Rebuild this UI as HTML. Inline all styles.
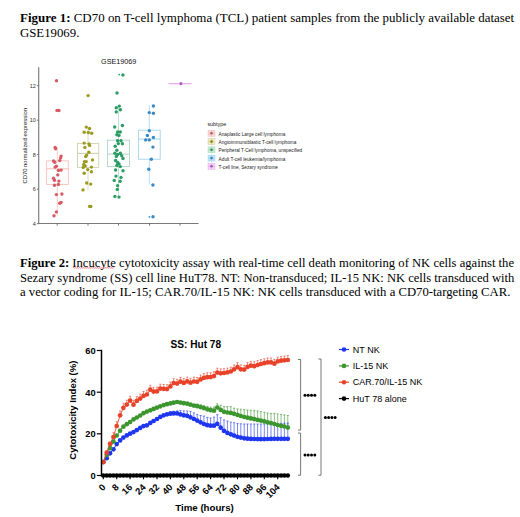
<!DOCTYPE html>
<html><head><meta charset="utf-8"><style>
html,body{margin:0;padding:0;background:#fff;}
body{width:520px;height:517px;overflow:hidden;position:relative;}
svg{position:absolute;left:0;top:0;}
svg text{font-family:"Liberation Sans",sans-serif;}
svg text.serif{font-family:"Liberation Serif",serif;}
</style></head><body>
<svg width="520" height="517" viewBox="0 0 520 517">
<rect width="520" height="517" fill="#fff"/>
<text class="serif" x="20" y="21.9" font-size="12.8" fill="#000" textLength="494.2" lengthAdjust="spacingAndGlyphs"><tspan font-weight="bold">Figure 1:</tspan> CD70 on T-cell lymphoma (TCL) patient samples from the publicly available dataset</text>
<text class="serif" x="20" y="36.7" font-size="12.8" fill="#000">GSE19069.</text>
<text class="serif" x="20" y="266.9" font-size="12.8" fill="#000" textLength="494" lengthAdjust="spacingAndGlyphs"><tspan font-weight="bold">Figure 2:</tspan> Incucyte cytotoxicity assay with real-time cell death monitoring of NK cells against the</text>
<text class="serif" x="20" y="281.7" font-size="12.8" fill="#000" textLength="494.3" lengthAdjust="spacingAndGlyphs">Sezary syndrome (SS) cell line HuT78. NT: Non-transduced; IL-15 NK: NK cells transduced with</text>
<text class="serif" x="20" y="296.3" font-size="12.8" fill="#000" textLength="490.4" lengthAdjust="spacingAndGlyphs">a vector coding for IL-15; CAR.70/IL-15 NK: NK cells transduced with a CD70-targeting CAR.</text>
<g id="fig1">
<line x1="38.7" y1="67.2" x2="38.7" y2="224.0" stroke="#7a7a7a" stroke-width="1.15"/>
<line x1="38.1" y1="223.5" x2="198.6" y2="223.5" stroke="#7a7a7a" stroke-width="1.15"/>
<line x1="36.8" y1="85.7" x2="38.6" y2="85.7" stroke="#555" stroke-width="0.8"/>
<text x="35.9" y="87.6" font-size="5.5" fill="#333" text-anchor="end">12</text>
<line x1="36.8" y1="120.2" x2="38.6" y2="120.2" stroke="#555" stroke-width="0.8"/>
<text x="35.9" y="122.1" font-size="5.5" fill="#333" text-anchor="end">10</text>
<line x1="36.8" y1="154.7" x2="38.6" y2="154.7" stroke="#555" stroke-width="0.8"/>
<text x="35.9" y="156.6" font-size="5.5" fill="#333" text-anchor="end">8</text>
<line x1="36.8" y1="189.2" x2="38.6" y2="189.2" stroke="#555" stroke-width="0.8"/>
<text x="35.9" y="191.1" font-size="5.5" fill="#333" text-anchor="end">6</text>
<line x1="36.8" y1="223.7" x2="38.6" y2="223.7" stroke="#555" stroke-width="0.8"/>
<text x="35.9" y="225.6" font-size="5.5" fill="#333" text-anchor="end">4</text>
<line x1="57.2" y1="223.6" x2="57.2" y2="225.6" stroke="#555" stroke-width="0.8"/>
<line x1="88.0" y1="223.6" x2="88.0" y2="225.6" stroke="#555" stroke-width="0.8"/>
<line x1="118.5" y1="223.6" x2="118.5" y2="225.6" stroke="#555" stroke-width="0.8"/>
<line x1="149.5" y1="223.6" x2="149.5" y2="225.6" stroke="#555" stroke-width="0.8"/>
<line x1="180.1" y1="223.6" x2="180.1" y2="225.6" stroke="#555" stroke-width="0.8"/>
<text x="101.1" y="63.9" font-size="7.9" fill="#111" textLength="35.2" lengthAdjust="spacingAndGlyphs">GSE19069</text>
<text transform="translate(26.6,145.8) rotate(-90)" font-size="5.5" fill="#222" text-anchor="middle" textLength="75.6" lengthAdjust="spacingAndGlyphs">CD70 normalized expression</text>
<line x1="57.3" y1="147.4" x2="57.3" y2="160.9" stroke="#F5C0BC" stroke-width="0.8"/>
<line x1="57.3" y1="184.4" x2="57.3" y2="215.7" stroke="#F5C0BC" stroke-width="0.8"/>
<rect x="46.6" y="160.9" width="21.7" height="23.5" fill="none" stroke="#F5C0BC" stroke-width="0.9"/>
<line x1="46.6" y1="168.8" x2="68.3" y2="168.8" stroke="#F5C0BC" stroke-width="1.1"/>
<line x1="88.0" y1="127.1" x2="88.0" y2="143.4" stroke="#D0D0B0" stroke-width="0.8"/>
<line x1="88.0" y1="167.4" x2="88.0" y2="189.9" stroke="#D0D0B0" stroke-width="0.8"/>
<rect x="77.5" y="143.4" width="21.2" height="24.0" fill="none" stroke="#D0D0B0" stroke-width="0.9"/>
<line x1="77.5" y1="153.4" x2="98.7" y2="153.4" stroke="#D0D0B0" stroke-width="1.1"/>
<line x1="118.5" y1="107.7" x2="118.5" y2="140.2" stroke="#B0D8C4" stroke-width="0.8"/>
<line x1="118.5" y1="166.6" x2="118.5" y2="197.1" stroke="#B0D8C4" stroke-width="0.8"/>
<rect x="107.5" y="140.2" width="22.0" height="26.4" fill="none" stroke="#B0D8C4" stroke-width="0.9"/>
<line x1="107.5" y1="154.1" x2="129.5" y2="154.1" stroke="#B0D8C4" stroke-width="1.1"/>
<line x1="149.3" y1="105.3" x2="149.3" y2="130.2" stroke="#A4D4F0" stroke-width="0.8"/>
<line x1="149.3" y1="159.2" x2="149.3" y2="184.5" stroke="#A4D4F0" stroke-width="0.8"/>
<rect x="138.5" y="130.2" width="21.7" height="29.0" fill="none" stroke="#A4D4F0" stroke-width="0.9"/>
<line x1="138.5" y1="139.1" x2="160.2" y2="139.1" stroke="#A4D4F0" stroke-width="1.1"/>
<line x1="168.5" y1="83.7" x2="191.5" y2="83.7" stroke="#E8A8F0" stroke-width="1.2"/>
<circle cx="180.9" cy="83.7" r="1.6" fill="#B060C0"/>
<circle cx="56.5" cy="80.8" r="1.7" fill="#D65A64"/>
<circle cx="58.9" cy="110.5" r="1.7" fill="#D65A64"/>
<circle cx="57.0" cy="110.4" r="1.7" fill="#D65A64"/>
<circle cx="55.1" cy="147.4" r="1.7" fill="#D65A64"/>
<circle cx="55.6" cy="148.8" r="1.7" fill="#D65A64"/>
<circle cx="61.1" cy="156.1" r="1.7" fill="#D65A64"/>
<circle cx="60.6" cy="158.1" r="1.7" fill="#D65A64"/>
<circle cx="59.7" cy="160.6" r="1.7" fill="#D65A64"/>
<circle cx="53.5" cy="161" r="1.7" fill="#D65A64"/>
<circle cx="54.8" cy="162.2" r="1.7" fill="#D65A64"/>
<circle cx="56.4" cy="166.3" r="1.7" fill="#D65A64"/>
<circle cx="55.1" cy="167.1" r="1.7" fill="#D65A64"/>
<circle cx="58.4" cy="170.4" r="1.7" fill="#D65A64"/>
<circle cx="61.1" cy="170.1" r="1.7" fill="#D65A64"/>
<circle cx="57.8" cy="174.9" r="1.7" fill="#D65A64"/>
<circle cx="53.5" cy="178.2" r="1.7" fill="#D65A64"/>
<circle cx="54.5" cy="180.3" r="1.7" fill="#D65A64"/>
<circle cx="58.9" cy="181.1" r="1.7" fill="#D65A64"/>
<circle cx="54.5" cy="185.2" r="1.7" fill="#D65A64"/>
<circle cx="58.4" cy="184.4" r="1.7" fill="#D65A64"/>
<circle cx="56.4" cy="194.6" r="1.7" fill="#D65A64"/>
<circle cx="61.9" cy="194" r="1.7" fill="#D65A64"/>
<circle cx="59.7" cy="203.3" r="1.7" fill="#D65A64"/>
<circle cx="61.1" cy="202.5" r="1.7" fill="#D65A64"/>
<circle cx="56.4" cy="211.9" r="1.7" fill="#D65A64"/>
<circle cx="54" cy="215.7" r="1.7" fill="#D65A64"/>
<circle cx="88.1" cy="95.6" r="1.7" fill="#9A9A1E"/>
<circle cx="86.3" cy="127.1" r="1.7" fill="#9A9A1E"/>
<circle cx="89.6" cy="128.5" r="1.7" fill="#9A9A1E"/>
<circle cx="84.2" cy="132.2" r="1.7" fill="#9A9A1E"/>
<circle cx="88.3" cy="132.5" r="1.7" fill="#9A9A1E"/>
<circle cx="91.7" cy="133.2" r="1.7" fill="#9A9A1E"/>
<circle cx="84.2" cy="143.1" r="1.7" fill="#9A9A1E"/>
<circle cx="89" cy="144" r="1.7" fill="#9A9A1E"/>
<circle cx="84.9" cy="147.4" r="1.7" fill="#9A9A1E"/>
<circle cx="89.6" cy="145.4" r="1.7" fill="#9A9A1E"/>
<circle cx="88.8" cy="152.2" r="1.7" fill="#9A9A1E"/>
<circle cx="86.7" cy="155.1" r="1.7" fill="#9A9A1E"/>
<circle cx="85.7" cy="156.5" r="1.7" fill="#9A9A1E"/>
<circle cx="92.5" cy="159.9" r="1.7" fill="#9A9A1E"/>
<circle cx="84.5" cy="161.6" r="1.7" fill="#9A9A1E"/>
<circle cx="86.2" cy="161.6" r="1.7" fill="#9A9A1E"/>
<circle cx="83.8" cy="164.5" r="1.7" fill="#9A9A1E"/>
<circle cx="85.2" cy="165.9" r="1.7" fill="#9A9A1E"/>
<circle cx="83.3" cy="167.4" r="1.7" fill="#9A9A1E"/>
<circle cx="91.4" cy="167.1" r="1.7" fill="#9A9A1E"/>
<circle cx="87.7" cy="169.6" r="1.7" fill="#9A9A1E"/>
<circle cx="91.4" cy="171.7" r="1.7" fill="#9A9A1E"/>
<circle cx="84.2" cy="173.2" r="1.7" fill="#9A9A1E"/>
<circle cx="86.7" cy="183" r="1.7" fill="#9A9A1E"/>
<circle cx="90.7" cy="184.1" r="1.7" fill="#9A9A1E"/>
<circle cx="83" cy="189.9" r="1.7" fill="#9A9A1E"/>
<circle cx="89.6" cy="206.4" r="1.7" fill="#9A9A1E"/>
<circle cx="90.8" cy="206.5" r="1.7" fill="#9A9A1E"/>
<circle cx="122.9" cy="75" r="1.7" fill="#2A9C64"/>
<circle cx="117" cy="93" r="1.7" fill="#2A9C64"/>
<circle cx="116.3" cy="107.7" r="1.7" fill="#2A9C64"/>
<circle cx="119.3" cy="106.1" r="1.7" fill="#2A9C64"/>
<circle cx="120.4" cy="109.8" r="1.7" fill="#2A9C64"/>
<circle cx="116.3" cy="111.9" r="1.7" fill="#2A9C64"/>
<circle cx="114.7" cy="127" r="1.7" fill="#2A9C64"/>
<circle cx="122.4" cy="125.5" r="1.7" fill="#2A9C64"/>
<circle cx="117.6" cy="132" r="1.7" fill="#2A9C64"/>
<circle cx="120.3" cy="132" r="1.7" fill="#2A9C64"/>
<circle cx="116.9" cy="134.7" r="1.7" fill="#2A9C64"/>
<circle cx="119" cy="135.4" r="1.7" fill="#2A9C64"/>
<circle cx="117.6" cy="140.8" r="1.7" fill="#2A9C64"/>
<circle cx="121" cy="140.8" r="1.7" fill="#2A9C64"/>
<circle cx="118.3" cy="143.6" r="1.7" fill="#2A9C64"/>
<circle cx="122.4" cy="143.8" r="1.7" fill="#2A9C64"/>
<circle cx="115.2" cy="146.3" r="1.7" fill="#2A9C64"/>
<circle cx="116.9" cy="150.3" r="1.7" fill="#2A9C64"/>
<circle cx="114.9" cy="153.3" r="1.7" fill="#2A9C64"/>
<circle cx="117.6" cy="154.4" r="1.7" fill="#2A9C64"/>
<circle cx="120.3" cy="153.3" r="1.7" fill="#2A9C64"/>
<circle cx="121.7" cy="155.7" r="1.7" fill="#2A9C64"/>
<circle cx="116.3" cy="156.4" r="1.7" fill="#2A9C64"/>
<circle cx="123" cy="158.5" r="1.7" fill="#2A9C64"/>
<circle cx="115.6" cy="160.5" r="1.7" fill="#2A9C64"/>
<circle cx="117.6" cy="162.5" r="1.7" fill="#2A9C64"/>
<circle cx="119" cy="163.9" r="1.7" fill="#2A9C64"/>
<circle cx="116.9" cy="165.5" r="1.7" fill="#2A9C64"/>
<circle cx="120.3" cy="166.6" r="1.7" fill="#2A9C64"/>
<circle cx="115.6" cy="170" r="1.7" fill="#2A9C64"/>
<circle cx="123" cy="170.7" r="1.7" fill="#2A9C64"/>
<circle cx="116" cy="176.1" r="1.7" fill="#2A9C64"/>
<circle cx="121" cy="177.4" r="1.7" fill="#2A9C64"/>
<circle cx="114.2" cy="180.4" r="1.7" fill="#2A9C64"/>
<circle cx="120.1" cy="181.2" r="1.7" fill="#2A9C64"/>
<circle cx="117.6" cy="185.6" r="1.7" fill="#2A9C64"/>
<circle cx="117.3" cy="189.4" r="1.7" fill="#2A9C64"/>
<circle cx="114.9" cy="196.4" r="1.7" fill="#2A9C64"/>
<circle cx="119" cy="197.1" r="1.7" fill="#2A9C64"/>
<circle cx="153.4" cy="106" r="1.7" fill="#3A88C6"/>
<circle cx="149.3" cy="112.6" r="1.7" fill="#3A88C6"/>
<circle cx="153.4" cy="113.3" r="1.7" fill="#3A88C6"/>
<circle cx="149.3" cy="130.7" r="1.7" fill="#3A88C6"/>
<circle cx="147.4" cy="135.5" r="1.7" fill="#3A88C6"/>
<circle cx="145.7" cy="139.9" r="1.7" fill="#3A88C6"/>
<circle cx="149.3" cy="139.9" r="1.7" fill="#3A88C6"/>
<circle cx="153.4" cy="137.4" r="1.7" fill="#3A88C6"/>
<circle cx="152.9" cy="147.1" r="1.7" fill="#3A88C6"/>
<circle cx="151.3" cy="159.2" r="1.7" fill="#3A88C6"/>
<circle cx="148.8" cy="169.3" r="1.7" fill="#3A88C6"/>
<circle cx="152.9" cy="185" r="1.7" fill="#3A88C6"/>
<circle cx="153" cy="216.7" r="1.7" fill="#3A88C6"/>
<circle cx="149.4" cy="216.8" r="0.9" fill="#3A88C6"/>
<circle cx="119.2" cy="74.6" r="0.9" fill="#2A9C64"/>
<text x="207.4" y="126.4" font-size="5.6" fill="#222" textLength="18.9" lengthAdjust="spacingAndGlyphs">subtype</text>
<rect x="208.0" y="130.3" width="7.0" height="6.0" fill="#F9D6D4" stroke="#F5C0BC" stroke-width="0.5"/>
<line x1="211.5" y1="129.7" x2="211.5" y2="136.9" stroke="#F5C0BC" stroke-width="0.6"/>
<line x1="208.0" y1="133.3" x2="215.0" y2="133.3" stroke="#F5C0BC" stroke-width="0.6"/>
<circle cx="211.5" cy="133.3" r="1.3" fill="#B0606A"/>
<text x="218.6" y="135.7" font-size="5.2" fill="#222" textLength="66.7" lengthAdjust="spacingAndGlyphs">Anaplastic Large cell lymphoma</text>
<rect x="208.0" y="138.6" width="7.0" height="6.0" fill="#EEEBB4" stroke="#D0D0B0" stroke-width="0.5"/>
<line x1="211.5" y1="138.0" x2="211.5" y2="145.2" stroke="#D0D0B0" stroke-width="0.6"/>
<line x1="208.0" y1="141.6" x2="215.0" y2="141.6" stroke="#D0D0B0" stroke-width="0.6"/>
<circle cx="211.5" cy="141.6" r="1.3" fill="#888020"/>
<text x="218.6" y="144.0" font-size="5.2" fill="#222" textLength="77.8" lengthAdjust="spacingAndGlyphs">Angioimmunoblastic T-cell lymphoma</text>
<rect x="208.0" y="146.8" width="7.0" height="6.0" fill="#C6EBD4" stroke="#B0D8C4" stroke-width="0.5"/>
<line x1="211.5" y1="146.2" x2="211.5" y2="153.4" stroke="#B0D8C4" stroke-width="0.6"/>
<line x1="208.0" y1="149.8" x2="215.0" y2="149.8" stroke="#B0D8C4" stroke-width="0.6"/>
<circle cx="211.5" cy="149.8" r="1.3" fill="#3A8A58"/>
<text x="218.6" y="152.2" font-size="5.2" fill="#222" textLength="83.6" lengthAdjust="spacingAndGlyphs">Peripheral T-Cell lymphoma, unspecified</text>
<rect x="208.0" y="155.1" width="7.0" height="6.0" fill="#BEE2F6" stroke="#A4D4F0" stroke-width="0.5"/>
<line x1="211.5" y1="154.5" x2="211.5" y2="161.7" stroke="#A4D4F0" stroke-width="0.6"/>
<line x1="208.0" y1="158.1" x2="215.0" y2="158.1" stroke="#A4D4F0" stroke-width="0.6"/>
<circle cx="211.5" cy="158.1" r="1.3" fill="#3585B8"/>
<text x="218.6" y="160.5" font-size="5.2" fill="#222" textLength="66.7" lengthAdjust="spacingAndGlyphs">Adult T-cell leukemia/lymphoma</text>
<rect x="208.0" y="163.3" width="7.0" height="6.0" fill="#F2D0F4" stroke="#E8A8F0" stroke-width="0.5"/>
<line x1="211.5" y1="162.7" x2="211.5" y2="169.9" stroke="#E8A8F0" stroke-width="0.6"/>
<line x1="208.0" y1="166.3" x2="215.0" y2="166.3" stroke="#E8A8F0" stroke-width="0.6"/>
<circle cx="211.5" cy="166.3" r="1.3" fill="#A058B0"/>
<text x="218.6" y="168.7" font-size="5.2" fill="#222" textLength="59.4" lengthAdjust="spacingAndGlyphs">T-cell line, Sezary syndrome</text>
</g>
<g id="fig2">
<line x1="103.3" y1="462.2" x2="103.3" y2="460.5" stroke="#E8432A" stroke-width="0.6"/>
<line x1="102.2" y1="460.5" x2="104.4" y2="460.5" stroke="#E8432A" stroke-width="0.6"/>
<line x1="106.7" y1="452.7" x2="106.7" y2="451.0" stroke="#E8432A" stroke-width="0.6"/>
<line x1="105.6" y1="451.0" x2="107.8" y2="451.0" stroke="#E8432A" stroke-width="0.6"/>
<line x1="110.0" y1="443.9" x2="110.0" y2="442.3" stroke="#E8432A" stroke-width="0.6"/>
<line x1="108.9" y1="442.3" x2="111.1" y2="442.3" stroke="#E8432A" stroke-width="0.6"/>
<line x1="113.4" y1="437.0" x2="113.4" y2="432.7" stroke="#E8432A" stroke-width="0.6"/>
<line x1="112.3" y1="432.7" x2="114.5" y2="432.7" stroke="#E8432A" stroke-width="0.6"/>
<line x1="116.7" y1="426.0" x2="116.7" y2="421.7" stroke="#E8432A" stroke-width="0.6"/>
<line x1="115.6" y1="421.7" x2="117.8" y2="421.7" stroke="#E8432A" stroke-width="0.6"/>
<line x1="120.1" y1="415.3" x2="120.1" y2="410.9" stroke="#E8432A" stroke-width="0.6"/>
<line x1="119.0" y1="410.9" x2="121.2" y2="410.9" stroke="#E8432A" stroke-width="0.6"/>
<line x1="123.4" y1="407.8" x2="123.4" y2="403.4" stroke="#E8432A" stroke-width="0.6"/>
<line x1="122.3" y1="403.4" x2="124.5" y2="403.4" stroke="#E8432A" stroke-width="0.6"/>
<line x1="126.8" y1="404.6" x2="126.8" y2="400.2" stroke="#E8432A" stroke-width="0.6"/>
<line x1="125.7" y1="400.2" x2="127.9" y2="400.2" stroke="#E8432A" stroke-width="0.6"/>
<line x1="130.1" y1="400.6" x2="130.1" y2="396.2" stroke="#E8432A" stroke-width="0.6"/>
<line x1="129.0" y1="396.2" x2="131.2" y2="396.2" stroke="#E8432A" stroke-width="0.6"/>
<line x1="133.5" y1="404.7" x2="133.5" y2="400.3" stroke="#E8432A" stroke-width="0.6"/>
<line x1="132.4" y1="400.3" x2="134.6" y2="400.3" stroke="#E8432A" stroke-width="0.6"/>
<line x1="136.8" y1="400.9" x2="136.8" y2="396.6" stroke="#E8432A" stroke-width="0.6"/>
<line x1="135.7" y1="396.6" x2="137.9" y2="396.6" stroke="#E8432A" stroke-width="0.6"/>
<line x1="140.2" y1="398.6" x2="140.2" y2="394.2" stroke="#E8432A" stroke-width="0.6"/>
<line x1="139.1" y1="394.2" x2="141.3" y2="394.2" stroke="#E8432A" stroke-width="0.6"/>
<line x1="143.5" y1="395.9" x2="143.5" y2="391.5" stroke="#E8432A" stroke-width="0.6"/>
<line x1="142.4" y1="391.5" x2="144.6" y2="391.5" stroke="#E8432A" stroke-width="0.6"/>
<line x1="146.9" y1="394.5" x2="146.9" y2="390.1" stroke="#E8432A" stroke-width="0.6"/>
<line x1="145.8" y1="390.1" x2="148.0" y2="390.1" stroke="#E8432A" stroke-width="0.6"/>
<line x1="150.3" y1="389.7" x2="150.3" y2="385.3" stroke="#E8432A" stroke-width="0.6"/>
<line x1="149.2" y1="385.3" x2="151.4" y2="385.3" stroke="#E8432A" stroke-width="0.6"/>
<line x1="153.6" y1="391.6" x2="153.6" y2="387.3" stroke="#E8432A" stroke-width="0.6"/>
<line x1="152.5" y1="387.3" x2="154.7" y2="387.3" stroke="#E8432A" stroke-width="0.6"/>
<line x1="157.0" y1="391.4" x2="157.0" y2="387.1" stroke="#E8432A" stroke-width="0.6"/>
<line x1="155.9" y1="387.1" x2="158.1" y2="387.1" stroke="#E8432A" stroke-width="0.6"/>
<line x1="160.3" y1="388.6" x2="160.3" y2="384.2" stroke="#E8432A" stroke-width="0.6"/>
<line x1="159.2" y1="384.2" x2="161.4" y2="384.2" stroke="#E8432A" stroke-width="0.6"/>
<line x1="163.7" y1="388.8" x2="163.7" y2="384.5" stroke="#E8432A" stroke-width="0.6"/>
<line x1="162.6" y1="384.5" x2="164.8" y2="384.5" stroke="#E8432A" stroke-width="0.6"/>
<line x1="167.0" y1="389.1" x2="167.0" y2="384.7" stroke="#E8432A" stroke-width="0.6"/>
<line x1="165.9" y1="384.7" x2="168.1" y2="384.7" stroke="#E8432A" stroke-width="0.6"/>
<line x1="170.4" y1="386.4" x2="170.4" y2="382.0" stroke="#E8432A" stroke-width="0.6"/>
<line x1="169.3" y1="382.0" x2="171.5" y2="382.0" stroke="#E8432A" stroke-width="0.6"/>
<line x1="173.7" y1="383.1" x2="173.7" y2="378.7" stroke="#E8432A" stroke-width="0.6"/>
<line x1="172.6" y1="378.7" x2="174.8" y2="378.7" stroke="#E8432A" stroke-width="0.6"/>
<line x1="177.1" y1="383.6" x2="177.1" y2="379.3" stroke="#E8432A" stroke-width="0.6"/>
<line x1="176.0" y1="379.3" x2="178.2" y2="379.3" stroke="#E8432A" stroke-width="0.6"/>
<line x1="180.4" y1="381.7" x2="180.4" y2="377.3" stroke="#E8432A" stroke-width="0.6"/>
<line x1="179.3" y1="377.3" x2="181.5" y2="377.3" stroke="#E8432A" stroke-width="0.6"/>
<line x1="183.8" y1="382.9" x2="183.8" y2="378.5" stroke="#E8432A" stroke-width="0.6"/>
<line x1="182.7" y1="378.5" x2="184.9" y2="378.5" stroke="#E8432A" stroke-width="0.6"/>
<line x1="187.2" y1="381.4" x2="187.2" y2="377.1" stroke="#E8432A" stroke-width="0.6"/>
<line x1="186.1" y1="377.1" x2="188.2" y2="377.1" stroke="#E8432A" stroke-width="0.6"/>
<line x1="190.5" y1="382.7" x2="190.5" y2="378.3" stroke="#E8432A" stroke-width="0.6"/>
<line x1="189.4" y1="378.3" x2="191.6" y2="378.3" stroke="#E8432A" stroke-width="0.6"/>
<line x1="193.9" y1="381.5" x2="193.9" y2="377.1" stroke="#E8432A" stroke-width="0.6"/>
<line x1="192.8" y1="377.1" x2="195.0" y2="377.1" stroke="#E8432A" stroke-width="0.6"/>
<line x1="197.2" y1="381.8" x2="197.2" y2="377.5" stroke="#E8432A" stroke-width="0.6"/>
<line x1="196.1" y1="377.5" x2="198.3" y2="377.5" stroke="#E8432A" stroke-width="0.6"/>
<line x1="200.6" y1="379.4" x2="200.6" y2="375.0" stroke="#E8432A" stroke-width="0.6"/>
<line x1="199.5" y1="375.0" x2="201.7" y2="375.0" stroke="#E8432A" stroke-width="0.6"/>
<line x1="203.9" y1="377.9" x2="203.9" y2="373.5" stroke="#E8432A" stroke-width="0.6"/>
<line x1="202.8" y1="373.5" x2="205.0" y2="373.5" stroke="#E8432A" stroke-width="0.6"/>
<line x1="207.3" y1="377.2" x2="207.3" y2="372.8" stroke="#E8432A" stroke-width="0.6"/>
<line x1="206.2" y1="372.8" x2="208.4" y2="372.8" stroke="#E8432A" stroke-width="0.6"/>
<line x1="210.6" y1="377.1" x2="210.6" y2="372.7" stroke="#E8432A" stroke-width="0.6"/>
<line x1="209.5" y1="372.7" x2="211.7" y2="372.7" stroke="#E8432A" stroke-width="0.6"/>
<line x1="214.0" y1="376.1" x2="214.0" y2="371.7" stroke="#E8432A" stroke-width="0.6"/>
<line x1="212.9" y1="371.7" x2="215.1" y2="371.7" stroke="#E8432A" stroke-width="0.6"/>
<line x1="217.3" y1="372.6" x2="217.3" y2="368.2" stroke="#E8432A" stroke-width="0.6"/>
<line x1="216.2" y1="368.2" x2="218.4" y2="368.2" stroke="#E8432A" stroke-width="0.6"/>
<line x1="220.7" y1="373.3" x2="220.7" y2="368.9" stroke="#E8432A" stroke-width="0.6"/>
<line x1="219.6" y1="368.9" x2="221.8" y2="368.9" stroke="#E8432A" stroke-width="0.6"/>
<line x1="224.0" y1="373.0" x2="224.0" y2="368.7" stroke="#E8432A" stroke-width="0.6"/>
<line x1="222.9" y1="368.7" x2="225.1" y2="368.7" stroke="#E8432A" stroke-width="0.6"/>
<line x1="227.4" y1="372.4" x2="227.4" y2="368.1" stroke="#E8432A" stroke-width="0.6"/>
<line x1="226.3" y1="368.1" x2="228.5" y2="368.1" stroke="#E8432A" stroke-width="0.6"/>
<line x1="230.8" y1="371.5" x2="230.8" y2="367.2" stroke="#E8432A" stroke-width="0.6"/>
<line x1="229.7" y1="367.2" x2="231.9" y2="367.2" stroke="#E8432A" stroke-width="0.6"/>
<line x1="234.1" y1="369.3" x2="234.1" y2="364.9" stroke="#E8432A" stroke-width="0.6"/>
<line x1="233.0" y1="364.9" x2="235.2" y2="364.9" stroke="#E8432A" stroke-width="0.6"/>
<line x1="237.5" y1="367.1" x2="237.5" y2="362.7" stroke="#E8432A" stroke-width="0.6"/>
<line x1="236.4" y1="362.7" x2="238.6" y2="362.7" stroke="#E8432A" stroke-width="0.6"/>
<line x1="240.8" y1="369.3" x2="240.8" y2="364.9" stroke="#E8432A" stroke-width="0.6"/>
<line x1="239.7" y1="364.9" x2="241.9" y2="364.9" stroke="#E8432A" stroke-width="0.6"/>
<line x1="244.2" y1="369.6" x2="244.2" y2="365.3" stroke="#E8432A" stroke-width="0.6"/>
<line x1="243.1" y1="365.3" x2="245.3" y2="365.3" stroke="#E8432A" stroke-width="0.6"/>
<line x1="247.5" y1="366.9" x2="247.5" y2="362.5" stroke="#E8432A" stroke-width="0.6"/>
<line x1="246.4" y1="362.5" x2="248.6" y2="362.5" stroke="#E8432A" stroke-width="0.6"/>
<line x1="250.9" y1="365.7" x2="250.9" y2="361.3" stroke="#E8432A" stroke-width="0.6"/>
<line x1="249.8" y1="361.3" x2="252.0" y2="361.3" stroke="#E8432A" stroke-width="0.6"/>
<line x1="254.2" y1="366.2" x2="254.2" y2="361.8" stroke="#E8432A" stroke-width="0.6"/>
<line x1="253.1" y1="361.8" x2="255.3" y2="361.8" stroke="#E8432A" stroke-width="0.6"/>
<line x1="257.6" y1="365.0" x2="257.6" y2="360.6" stroke="#E8432A" stroke-width="0.6"/>
<line x1="256.5" y1="360.6" x2="258.7" y2="360.6" stroke="#E8432A" stroke-width="0.6"/>
<line x1="260.9" y1="364.0" x2="260.9" y2="359.6" stroke="#E8432A" stroke-width="0.6"/>
<line x1="259.8" y1="359.6" x2="262.0" y2="359.6" stroke="#E8432A" stroke-width="0.6"/>
<line x1="264.3" y1="363.2" x2="264.3" y2="358.8" stroke="#E8432A" stroke-width="0.6"/>
<line x1="263.2" y1="358.8" x2="265.4" y2="358.8" stroke="#E8432A" stroke-width="0.6"/>
<line x1="267.6" y1="362.4" x2="267.6" y2="358.0" stroke="#E8432A" stroke-width="0.6"/>
<line x1="266.5" y1="358.0" x2="268.7" y2="358.0" stroke="#E8432A" stroke-width="0.6"/>
<line x1="271.0" y1="362.4" x2="271.0" y2="358.0" stroke="#E8432A" stroke-width="0.6"/>
<line x1="269.9" y1="358.0" x2="272.1" y2="358.0" stroke="#E8432A" stroke-width="0.6"/>
<line x1="274.4" y1="363.7" x2="274.4" y2="359.3" stroke="#E8432A" stroke-width="0.6"/>
<line x1="273.3" y1="359.3" x2="275.5" y2="359.3" stroke="#E8432A" stroke-width="0.6"/>
<line x1="277.7" y1="361.4" x2="277.7" y2="357.1" stroke="#E8432A" stroke-width="0.6"/>
<line x1="276.6" y1="357.1" x2="278.8" y2="357.1" stroke="#E8432A" stroke-width="0.6"/>
<line x1="281.1" y1="360.7" x2="281.1" y2="356.4" stroke="#E8432A" stroke-width="0.6"/>
<line x1="280.0" y1="356.4" x2="282.2" y2="356.4" stroke="#E8432A" stroke-width="0.6"/>
<line x1="284.4" y1="360.3" x2="284.4" y2="356.0" stroke="#E8432A" stroke-width="0.6"/>
<line x1="283.3" y1="356.0" x2="285.5" y2="356.0" stroke="#E8432A" stroke-width="0.6"/>
<line x1="287.8" y1="360.0" x2="287.8" y2="355.6" stroke="#E8432A" stroke-width="0.6"/>
<line x1="286.7" y1="355.6" x2="288.9" y2="355.6" stroke="#E8432A" stroke-width="0.6"/>
<line x1="197.2" y1="406.2" x2="197.2" y2="404.1" stroke="#3C962E" stroke-width="0.6"/>
<line x1="196.1" y1="404.1" x2="198.3" y2="404.1" stroke="#3C962E" stroke-width="0.6"/>
<line x1="200.6" y1="407.1" x2="200.6" y2="404.8" stroke="#3C962E" stroke-width="0.6"/>
<line x1="199.5" y1="404.8" x2="201.7" y2="404.8" stroke="#3C962E" stroke-width="0.6"/>
<line x1="203.9" y1="408.1" x2="203.9" y2="405.6" stroke="#3C962E" stroke-width="0.6"/>
<line x1="202.8" y1="405.6" x2="205.0" y2="405.6" stroke="#3C962E" stroke-width="0.6"/>
<line x1="207.3" y1="409.3" x2="207.3" y2="406.4" stroke="#3C962E" stroke-width="0.6"/>
<line x1="206.2" y1="406.4" x2="208.4" y2="406.4" stroke="#3C962E" stroke-width="0.6"/>
<line x1="210.6" y1="410.2" x2="210.6" y2="407.1" stroke="#3C962E" stroke-width="0.6"/>
<line x1="209.5" y1="407.1" x2="211.7" y2="407.1" stroke="#3C962E" stroke-width="0.6"/>
<line x1="214.0" y1="410.7" x2="214.0" y2="407.0" stroke="#3C962E" stroke-width="0.6"/>
<line x1="212.9" y1="407.0" x2="215.1" y2="407.0" stroke="#3C962E" stroke-width="0.6"/>
<line x1="217.3" y1="407.5" x2="217.3" y2="403.8" stroke="#3C962E" stroke-width="0.6"/>
<line x1="216.2" y1="403.8" x2="218.4" y2="403.8" stroke="#3C962E" stroke-width="0.6"/>
<line x1="220.7" y1="409.9" x2="220.7" y2="405.3" stroke="#3C962E" stroke-width="0.6"/>
<line x1="219.6" y1="405.3" x2="221.8" y2="405.3" stroke="#3C962E" stroke-width="0.6"/>
<line x1="224.0" y1="411.8" x2="224.0" y2="406.4" stroke="#3C962E" stroke-width="0.6"/>
<line x1="222.9" y1="406.4" x2="225.1" y2="406.4" stroke="#3C962E" stroke-width="0.6"/>
<line x1="227.4" y1="412.5" x2="227.4" y2="406.6" stroke="#3C962E" stroke-width="0.6"/>
<line x1="226.3" y1="406.6" x2="228.5" y2="406.6" stroke="#3C962E" stroke-width="0.6"/>
<line x1="230.8" y1="412.9" x2="230.8" y2="406.6" stroke="#3C962E" stroke-width="0.6"/>
<line x1="229.7" y1="406.6" x2="231.9" y2="406.6" stroke="#3C962E" stroke-width="0.6"/>
<line x1="234.1" y1="413.8" x2="234.1" y2="408.2" stroke="#3C962E" stroke-width="0.6"/>
<line x1="233.0" y1="408.2" x2="235.2" y2="408.2" stroke="#3C962E" stroke-width="0.6"/>
<line x1="237.5" y1="414.9" x2="237.5" y2="408.9" stroke="#3C962E" stroke-width="0.6"/>
<line x1="236.4" y1="408.9" x2="238.6" y2="408.9" stroke="#3C962E" stroke-width="0.6"/>
<line x1="240.8" y1="416.0" x2="240.8" y2="409.2" stroke="#3C962E" stroke-width="0.6"/>
<line x1="239.7" y1="409.2" x2="241.9" y2="409.2" stroke="#3C962E" stroke-width="0.6"/>
<line x1="244.2" y1="417.0" x2="244.2" y2="409.6" stroke="#3C962E" stroke-width="0.6"/>
<line x1="243.1" y1="409.6" x2="245.3" y2="409.6" stroke="#3C962E" stroke-width="0.6"/>
<line x1="247.5" y1="417.7" x2="247.5" y2="410.0" stroke="#3C962E" stroke-width="0.6"/>
<line x1="246.4" y1="410.0" x2="248.6" y2="410.0" stroke="#3C962E" stroke-width="0.6"/>
<line x1="250.9" y1="418.4" x2="250.9" y2="410.2" stroke="#3C962E" stroke-width="0.6"/>
<line x1="249.8" y1="410.2" x2="252.0" y2="410.2" stroke="#3C962E" stroke-width="0.6"/>
<line x1="254.2" y1="419.1" x2="254.2" y2="410.4" stroke="#3C962E" stroke-width="0.6"/>
<line x1="253.1" y1="410.4" x2="255.3" y2="410.4" stroke="#3C962E" stroke-width="0.6"/>
<line x1="257.6" y1="419.9" x2="257.6" y2="410.9" stroke="#3C962E" stroke-width="0.6"/>
<line x1="256.5" y1="410.9" x2="258.7" y2="410.9" stroke="#3C962E" stroke-width="0.6"/>
<line x1="260.9" y1="420.6" x2="260.9" y2="411.6" stroke="#3C962E" stroke-width="0.6"/>
<line x1="259.8" y1="411.6" x2="262.0" y2="411.6" stroke="#3C962E" stroke-width="0.6"/>
<line x1="264.3" y1="421.4" x2="264.3" y2="412.2" stroke="#3C962E" stroke-width="0.6"/>
<line x1="263.2" y1="412.2" x2="265.4" y2="412.2" stroke="#3C962E" stroke-width="0.6"/>
<line x1="267.6" y1="422.3" x2="267.6" y2="413.0" stroke="#3C962E" stroke-width="0.6"/>
<line x1="266.5" y1="413.0" x2="268.7" y2="413.0" stroke="#3C962E" stroke-width="0.6"/>
<line x1="271.0" y1="423.1" x2="271.0" y2="413.4" stroke="#3C962E" stroke-width="0.6"/>
<line x1="269.9" y1="413.4" x2="272.1" y2="413.4" stroke="#3C962E" stroke-width="0.6"/>
<line x1="274.4" y1="424.0" x2="274.4" y2="413.4" stroke="#3C962E" stroke-width="0.6"/>
<line x1="273.3" y1="413.4" x2="275.5" y2="413.4" stroke="#3C962E" stroke-width="0.6"/>
<line x1="277.7" y1="425.0" x2="277.7" y2="413.9" stroke="#3C962E" stroke-width="0.6"/>
<line x1="276.6" y1="413.9" x2="278.8" y2="413.9" stroke="#3C962E" stroke-width="0.6"/>
<line x1="281.1" y1="425.8" x2="281.1" y2="414.4" stroke="#3C962E" stroke-width="0.6"/>
<line x1="280.0" y1="414.4" x2="282.2" y2="414.4" stroke="#3C962E" stroke-width="0.6"/>
<line x1="284.4" y1="426.5" x2="284.4" y2="414.9" stroke="#3C962E" stroke-width="0.6"/>
<line x1="283.3" y1="414.9" x2="285.5" y2="414.9" stroke="#3C962E" stroke-width="0.6"/>
<line x1="287.8" y1="427.6" x2="287.8" y2="415.5" stroke="#3C962E" stroke-width="0.6"/>
<line x1="286.7" y1="415.5" x2="288.9" y2="415.5" stroke="#3C962E" stroke-width="0.6"/>
<line x1="170.4" y1="413.7" x2="170.4" y2="411.5" stroke="#1F36F0" stroke-width="0.6"/>
<line x1="169.3" y1="411.5" x2="171.5" y2="411.5" stroke="#1F36F0" stroke-width="0.6"/>
<line x1="173.7" y1="413.4" x2="173.7" y2="411.2" stroke="#1F36F0" stroke-width="0.6"/>
<line x1="172.6" y1="411.2" x2="174.8" y2="411.2" stroke="#1F36F0" stroke-width="0.6"/>
<line x1="177.1" y1="413.4" x2="177.1" y2="410.9" stroke="#1F36F0" stroke-width="0.6"/>
<line x1="176.0" y1="410.9" x2="178.2" y2="410.9" stroke="#1F36F0" stroke-width="0.6"/>
<line x1="180.4" y1="414.4" x2="180.4" y2="410.6" stroke="#1F36F0" stroke-width="0.6"/>
<line x1="179.3" y1="410.6" x2="181.5" y2="410.6" stroke="#1F36F0" stroke-width="0.6"/>
<line x1="183.8" y1="415.3" x2="183.8" y2="410.8" stroke="#1F36F0" stroke-width="0.6"/>
<line x1="182.7" y1="410.8" x2="184.9" y2="410.8" stroke="#1F36F0" stroke-width="0.6"/>
<line x1="187.2" y1="415.8" x2="187.2" y2="411.0" stroke="#1F36F0" stroke-width="0.6"/>
<line x1="186.1" y1="411.0" x2="188.2" y2="411.0" stroke="#1F36F0" stroke-width="0.6"/>
<line x1="190.5" y1="417.3" x2="190.5" y2="411.4" stroke="#1F36F0" stroke-width="0.6"/>
<line x1="189.4" y1="411.4" x2="191.6" y2="411.4" stroke="#1F36F0" stroke-width="0.6"/>
<line x1="193.9" y1="419.0" x2="193.9" y2="412.9" stroke="#1F36F0" stroke-width="0.6"/>
<line x1="192.8" y1="412.9" x2="195.0" y2="412.9" stroke="#1F36F0" stroke-width="0.6"/>
<line x1="197.2" y1="420.6" x2="197.2" y2="414.5" stroke="#1F36F0" stroke-width="0.6"/>
<line x1="196.1" y1="414.5" x2="198.3" y2="414.5" stroke="#1F36F0" stroke-width="0.6"/>
<line x1="200.6" y1="422.3" x2="200.6" y2="415.5" stroke="#1F36F0" stroke-width="0.6"/>
<line x1="199.5" y1="415.5" x2="201.7" y2="415.5" stroke="#1F36F0" stroke-width="0.6"/>
<line x1="203.9" y1="424.0" x2="203.9" y2="416.1" stroke="#1F36F0" stroke-width="0.6"/>
<line x1="202.8" y1="416.1" x2="205.0" y2="416.1" stroke="#1F36F0" stroke-width="0.6"/>
<line x1="207.3" y1="425.2" x2="207.3" y2="417.4" stroke="#1F36F0" stroke-width="0.6"/>
<line x1="206.2" y1="417.4" x2="208.4" y2="417.4" stroke="#1F36F0" stroke-width="0.6"/>
<line x1="210.6" y1="425.7" x2="210.6" y2="418.0" stroke="#1F36F0" stroke-width="0.6"/>
<line x1="209.5" y1="418.0" x2="211.7" y2="418.0" stroke="#1F36F0" stroke-width="0.6"/>
<line x1="214.0" y1="425.7" x2="214.0" y2="417.1" stroke="#1F36F0" stroke-width="0.6"/>
<line x1="212.9" y1="417.1" x2="215.1" y2="417.1" stroke="#1F36F0" stroke-width="0.6"/>
<line x1="217.3" y1="423.9" x2="217.3" y2="414.7" stroke="#1F36F0" stroke-width="0.6"/>
<line x1="216.2" y1="414.7" x2="218.4" y2="414.7" stroke="#1F36F0" stroke-width="0.6"/>
<line x1="220.7" y1="427.7" x2="220.7" y2="417.7" stroke="#1F36F0" stroke-width="0.6"/>
<line x1="219.6" y1="417.7" x2="221.8" y2="417.7" stroke="#1F36F0" stroke-width="0.6"/>
<line x1="224.0" y1="430.9" x2="224.0" y2="419.9" stroke="#1F36F0" stroke-width="0.6"/>
<line x1="222.9" y1="419.9" x2="225.1" y2="419.9" stroke="#1F36F0" stroke-width="0.6"/>
<line x1="227.4" y1="432.9" x2="227.4" y2="421.0" stroke="#1F36F0" stroke-width="0.6"/>
<line x1="226.3" y1="421.0" x2="228.5" y2="421.0" stroke="#1F36F0" stroke-width="0.6"/>
<line x1="230.8" y1="434.3" x2="230.8" y2="422.1" stroke="#1F36F0" stroke-width="0.6"/>
<line x1="229.7" y1="422.1" x2="231.9" y2="422.1" stroke="#1F36F0" stroke-width="0.6"/>
<line x1="234.1" y1="435.6" x2="234.1" y2="422.7" stroke="#1F36F0" stroke-width="0.6"/>
<line x1="233.0" y1="422.7" x2="235.2" y2="422.7" stroke="#1F36F0" stroke-width="0.6"/>
<line x1="237.5" y1="436.8" x2="237.5" y2="423.6" stroke="#1F36F0" stroke-width="0.6"/>
<line x1="236.4" y1="423.6" x2="238.6" y2="423.6" stroke="#1F36F0" stroke-width="0.6"/>
<line x1="240.8" y1="437.6" x2="240.8" y2="423.8" stroke="#1F36F0" stroke-width="0.6"/>
<line x1="239.7" y1="423.8" x2="241.9" y2="423.8" stroke="#1F36F0" stroke-width="0.6"/>
<line x1="244.2" y1="438.3" x2="244.2" y2="424.0" stroke="#1F36F0" stroke-width="0.6"/>
<line x1="243.1" y1="424.0" x2="245.3" y2="424.0" stroke="#1F36F0" stroke-width="0.6"/>
<line x1="247.5" y1="438.7" x2="247.5" y2="424.0" stroke="#1F36F0" stroke-width="0.6"/>
<line x1="246.4" y1="424.0" x2="248.6" y2="424.0" stroke="#1F36F0" stroke-width="0.6"/>
<line x1="250.9" y1="438.9" x2="250.9" y2="424.0" stroke="#1F36F0" stroke-width="0.6"/>
<line x1="249.8" y1="424.0" x2="252.0" y2="424.0" stroke="#1F36F0" stroke-width="0.6"/>
<line x1="254.2" y1="439.0" x2="254.2" y2="424.0" stroke="#1F36F0" stroke-width="0.6"/>
<line x1="253.1" y1="424.0" x2="255.3" y2="424.0" stroke="#1F36F0" stroke-width="0.6"/>
<line x1="257.6" y1="439.1" x2="257.6" y2="424.0" stroke="#1F36F0" stroke-width="0.6"/>
<line x1="256.5" y1="424.0" x2="258.7" y2="424.0" stroke="#1F36F0" stroke-width="0.6"/>
<line x1="260.9" y1="439.2" x2="260.9" y2="424.0" stroke="#1F36F0" stroke-width="0.6"/>
<line x1="259.8" y1="424.0" x2="262.0" y2="424.0" stroke="#1F36F0" stroke-width="0.6"/>
<line x1="264.3" y1="439.1" x2="264.3" y2="424.0" stroke="#1F36F0" stroke-width="0.6"/>
<line x1="263.2" y1="424.0" x2="265.4" y2="424.0" stroke="#1F36F0" stroke-width="0.6"/>
<line x1="267.6" y1="439.0" x2="267.6" y2="424.0" stroke="#1F36F0" stroke-width="0.6"/>
<line x1="266.5" y1="424.0" x2="268.7" y2="424.0" stroke="#1F36F0" stroke-width="0.6"/>
<line x1="271.0" y1="438.9" x2="271.0" y2="424.0" stroke="#1F36F0" stroke-width="0.6"/>
<line x1="269.9" y1="424.0" x2="272.1" y2="424.0" stroke="#1F36F0" stroke-width="0.6"/>
<line x1="274.4" y1="438.8" x2="274.4" y2="423.8" stroke="#1F36F0" stroke-width="0.6"/>
<line x1="273.3" y1="423.8" x2="275.5" y2="423.8" stroke="#1F36F0" stroke-width="0.6"/>
<line x1="277.7" y1="438.8" x2="277.7" y2="423.6" stroke="#1F36F0" stroke-width="0.6"/>
<line x1="276.6" y1="423.6" x2="278.8" y2="423.6" stroke="#1F36F0" stroke-width="0.6"/>
<line x1="281.1" y1="438.8" x2="281.1" y2="423.4" stroke="#1F36F0" stroke-width="0.6"/>
<line x1="280.0" y1="423.4" x2="282.2" y2="423.4" stroke="#1F36F0" stroke-width="0.6"/>
<line x1="284.4" y1="438.8" x2="284.4" y2="423.2" stroke="#1F36F0" stroke-width="0.6"/>
<line x1="283.3" y1="423.2" x2="285.5" y2="423.2" stroke="#1F36F0" stroke-width="0.6"/>
<line x1="287.8" y1="438.8" x2="287.8" y2="423.1" stroke="#1F36F0" stroke-width="0.6"/>
<line x1="286.7" y1="423.1" x2="288.9" y2="423.1" stroke="#1F36F0" stroke-width="0.6"/>
<path d="M103.3,462.0 L106.7,458.2 L110.0,453.3 L113.4,449.3 L116.7,444.1 L120.1,440.4 L123.4,437.6 L126.8,435.4 L130.1,433.7 L133.5,432.1 L136.8,430.1 L140.2,427.9 L143.5,426.1 L146.9,425.3 L150.3,422.9 L153.6,421.0 L157.0,419.0 L160.3,416.9 L163.7,415.3 L167.0,414.3 L170.4,413.7 L173.7,413.4 L177.1,413.4 L180.4,414.4 L183.8,415.3 L187.2,415.8 L190.5,417.3 L193.9,419.0 L197.2,420.6 L200.6,422.3 L203.9,424.0 L207.3,425.2 L210.6,425.7 L214.0,425.7 L217.3,423.9 L220.7,427.7 L224.0,430.9 L227.4,432.9 L230.8,434.3 L234.1,435.6 L237.5,436.8 L240.8,437.6 L244.2,438.3 L247.5,438.7 L250.9,438.9 L254.2,439.0 L257.6,439.1 L260.9,439.2 L264.3,439.1 L267.6,439.0 L271.0,438.9 L274.4,438.8 L277.7,438.8 L281.1,438.8 L284.4,438.8 L287.8,438.8" fill="none" stroke="#1F36F0" stroke-width="0.9"/>
<circle cx="103.3" cy="462.0" r="2.35" fill="#1F36F0"/>
<circle cx="106.7" cy="458.2" r="2.35" fill="#1F36F0"/>
<circle cx="110.0" cy="453.3" r="2.35" fill="#1F36F0"/>
<circle cx="113.4" cy="449.3" r="2.35" fill="#1F36F0"/>
<circle cx="116.7" cy="444.1" r="2.35" fill="#1F36F0"/>
<circle cx="120.1" cy="440.4" r="2.35" fill="#1F36F0"/>
<circle cx="123.4" cy="437.6" r="2.35" fill="#1F36F0"/>
<circle cx="126.8" cy="435.4" r="2.35" fill="#1F36F0"/>
<circle cx="130.1" cy="433.7" r="2.35" fill="#1F36F0"/>
<circle cx="133.5" cy="432.1" r="2.35" fill="#1F36F0"/>
<circle cx="136.8" cy="430.1" r="2.35" fill="#1F36F0"/>
<circle cx="140.2" cy="427.9" r="2.35" fill="#1F36F0"/>
<circle cx="143.5" cy="426.1" r="2.35" fill="#1F36F0"/>
<circle cx="146.9" cy="425.3" r="2.35" fill="#1F36F0"/>
<circle cx="150.3" cy="422.9" r="2.35" fill="#1F36F0"/>
<circle cx="153.6" cy="421.0" r="2.35" fill="#1F36F0"/>
<circle cx="157.0" cy="419.0" r="2.35" fill="#1F36F0"/>
<circle cx="160.3" cy="416.9" r="2.35" fill="#1F36F0"/>
<circle cx="163.7" cy="415.3" r="2.35" fill="#1F36F0"/>
<circle cx="167.0" cy="414.3" r="2.35" fill="#1F36F0"/>
<circle cx="170.4" cy="413.7" r="2.35" fill="#1F36F0"/>
<circle cx="173.7" cy="413.4" r="2.35" fill="#1F36F0"/>
<circle cx="177.1" cy="413.4" r="2.35" fill="#1F36F0"/>
<circle cx="180.4" cy="414.4" r="2.35" fill="#1F36F0"/>
<circle cx="183.8" cy="415.3" r="2.35" fill="#1F36F0"/>
<circle cx="187.2" cy="415.8" r="2.35" fill="#1F36F0"/>
<circle cx="190.5" cy="417.3" r="2.35" fill="#1F36F0"/>
<circle cx="193.9" cy="419.0" r="2.35" fill="#1F36F0"/>
<circle cx="197.2" cy="420.6" r="2.35" fill="#1F36F0"/>
<circle cx="200.6" cy="422.3" r="2.35" fill="#1F36F0"/>
<circle cx="203.9" cy="424.0" r="2.35" fill="#1F36F0"/>
<circle cx="207.3" cy="425.2" r="2.35" fill="#1F36F0"/>
<circle cx="210.6" cy="425.7" r="2.35" fill="#1F36F0"/>
<circle cx="214.0" cy="425.7" r="2.35" fill="#1F36F0"/>
<circle cx="217.3" cy="423.9" r="2.35" fill="#1F36F0"/>
<circle cx="220.7" cy="427.7" r="2.35" fill="#1F36F0"/>
<circle cx="224.0" cy="430.9" r="2.35" fill="#1F36F0"/>
<circle cx="227.4" cy="432.9" r="2.35" fill="#1F36F0"/>
<circle cx="230.8" cy="434.3" r="2.35" fill="#1F36F0"/>
<circle cx="234.1" cy="435.6" r="2.35" fill="#1F36F0"/>
<circle cx="237.5" cy="436.8" r="2.35" fill="#1F36F0"/>
<circle cx="240.8" cy="437.6" r="2.35" fill="#1F36F0"/>
<circle cx="244.2" cy="438.3" r="2.35" fill="#1F36F0"/>
<circle cx="247.5" cy="438.7" r="2.35" fill="#1F36F0"/>
<circle cx="250.9" cy="438.9" r="2.35" fill="#1F36F0"/>
<circle cx="254.2" cy="439.0" r="2.35" fill="#1F36F0"/>
<circle cx="257.6" cy="439.1" r="2.35" fill="#1F36F0"/>
<circle cx="260.9" cy="439.2" r="2.35" fill="#1F36F0"/>
<circle cx="264.3" cy="439.1" r="2.35" fill="#1F36F0"/>
<circle cx="267.6" cy="439.0" r="2.35" fill="#1F36F0"/>
<circle cx="271.0" cy="438.9" r="2.35" fill="#1F36F0"/>
<circle cx="274.4" cy="438.8" r="2.35" fill="#1F36F0"/>
<circle cx="277.7" cy="438.8" r="2.35" fill="#1F36F0"/>
<circle cx="281.1" cy="438.8" r="2.35" fill="#1F36F0"/>
<circle cx="284.4" cy="438.8" r="2.35" fill="#1F36F0"/>
<circle cx="287.8" cy="438.8" r="2.35" fill="#1F36F0"/>
<path d="M103.3,462.0 L106.7,454.8 L110.0,448.2 L113.4,441.6 L116.7,435.5 L120.1,430.7 L123.4,426.7 L126.8,424.2 L130.1,422.0 L133.5,419.4 L136.8,417.5 L140.2,415.5 L143.5,413.2 L146.9,411.6 L150.3,410.3 L153.6,408.9 L157.0,407.6 L160.3,406.3 L163.7,405.1 L167.0,404.2 L170.4,403.4 L173.7,402.7 L177.1,402.0 L180.4,402.6 L183.8,403.2 L187.2,403.7 L190.5,404.7 L193.9,405.6 L197.2,406.2 L200.6,407.1 L203.9,408.1 L207.3,409.3 L210.6,410.2 L214.0,410.7 L217.3,407.5 L220.7,409.9 L224.0,411.8 L227.4,412.5 L230.8,412.9 L234.1,413.8 L237.5,414.9 L240.8,416.0 L244.2,417.0 L247.5,417.7 L250.9,418.4 L254.2,419.1 L257.6,419.9 L260.9,420.6 L264.3,421.4 L267.6,422.3 L271.0,423.1 L274.4,424.0 L277.7,425.0 L281.1,425.8 L284.4,426.5 L287.8,427.6" fill="none" stroke="#3C962E" stroke-width="0.9"/>
<circle cx="103.3" cy="462.0" r="2.35" fill="#3C962E"/>
<circle cx="106.7" cy="454.8" r="2.35" fill="#3C962E"/>
<circle cx="110.0" cy="448.2" r="2.35" fill="#3C962E"/>
<circle cx="113.4" cy="441.6" r="2.35" fill="#3C962E"/>
<circle cx="116.7" cy="435.5" r="2.35" fill="#3C962E"/>
<circle cx="120.1" cy="430.7" r="2.35" fill="#3C962E"/>
<circle cx="123.4" cy="426.7" r="2.35" fill="#3C962E"/>
<circle cx="126.8" cy="424.2" r="2.35" fill="#3C962E"/>
<circle cx="130.1" cy="422.0" r="2.35" fill="#3C962E"/>
<circle cx="133.5" cy="419.4" r="2.35" fill="#3C962E"/>
<circle cx="136.8" cy="417.5" r="2.35" fill="#3C962E"/>
<circle cx="140.2" cy="415.5" r="2.35" fill="#3C962E"/>
<circle cx="143.5" cy="413.2" r="2.35" fill="#3C962E"/>
<circle cx="146.9" cy="411.6" r="2.35" fill="#3C962E"/>
<circle cx="150.3" cy="410.3" r="2.35" fill="#3C962E"/>
<circle cx="153.6" cy="408.9" r="2.35" fill="#3C962E"/>
<circle cx="157.0" cy="407.6" r="2.35" fill="#3C962E"/>
<circle cx="160.3" cy="406.3" r="2.35" fill="#3C962E"/>
<circle cx="163.7" cy="405.1" r="2.35" fill="#3C962E"/>
<circle cx="167.0" cy="404.2" r="2.35" fill="#3C962E"/>
<circle cx="170.4" cy="403.4" r="2.35" fill="#3C962E"/>
<circle cx="173.7" cy="402.7" r="2.35" fill="#3C962E"/>
<circle cx="177.1" cy="402.0" r="2.35" fill="#3C962E"/>
<circle cx="180.4" cy="402.6" r="2.35" fill="#3C962E"/>
<circle cx="183.8" cy="403.2" r="2.35" fill="#3C962E"/>
<circle cx="187.2" cy="403.7" r="2.35" fill="#3C962E"/>
<circle cx="190.5" cy="404.7" r="2.35" fill="#3C962E"/>
<circle cx="193.9" cy="405.6" r="2.35" fill="#3C962E"/>
<circle cx="197.2" cy="406.2" r="2.35" fill="#3C962E"/>
<circle cx="200.6" cy="407.1" r="2.35" fill="#3C962E"/>
<circle cx="203.9" cy="408.1" r="2.35" fill="#3C962E"/>
<circle cx="207.3" cy="409.3" r="2.35" fill="#3C962E"/>
<circle cx="210.6" cy="410.2" r="2.35" fill="#3C962E"/>
<circle cx="214.0" cy="410.7" r="2.35" fill="#3C962E"/>
<circle cx="217.3" cy="407.5" r="2.35" fill="#3C962E"/>
<circle cx="220.7" cy="409.9" r="2.35" fill="#3C962E"/>
<circle cx="224.0" cy="411.8" r="2.35" fill="#3C962E"/>
<circle cx="227.4" cy="412.5" r="2.35" fill="#3C962E"/>
<circle cx="230.8" cy="412.9" r="2.35" fill="#3C962E"/>
<circle cx="234.1" cy="413.8" r="2.35" fill="#3C962E"/>
<circle cx="237.5" cy="414.9" r="2.35" fill="#3C962E"/>
<circle cx="240.8" cy="416.0" r="2.35" fill="#3C962E"/>
<circle cx="244.2" cy="417.0" r="2.35" fill="#3C962E"/>
<circle cx="247.5" cy="417.7" r="2.35" fill="#3C962E"/>
<circle cx="250.9" cy="418.4" r="2.35" fill="#3C962E"/>
<circle cx="254.2" cy="419.1" r="2.35" fill="#3C962E"/>
<circle cx="257.6" cy="419.9" r="2.35" fill="#3C962E"/>
<circle cx="260.9" cy="420.6" r="2.35" fill="#3C962E"/>
<circle cx="264.3" cy="421.4" r="2.35" fill="#3C962E"/>
<circle cx="267.6" cy="422.3" r="2.35" fill="#3C962E"/>
<circle cx="271.0" cy="423.1" r="2.35" fill="#3C962E"/>
<circle cx="274.4" cy="424.0" r="2.35" fill="#3C962E"/>
<circle cx="277.7" cy="425.0" r="2.35" fill="#3C962E"/>
<circle cx="281.1" cy="425.8" r="2.35" fill="#3C962E"/>
<circle cx="284.4" cy="426.5" r="2.35" fill="#3C962E"/>
<circle cx="287.8" cy="427.6" r="2.35" fill="#3C962E"/>
<path d="M103.3,462.2 L106.7,452.7 L110.0,443.9 L113.4,437.0 L116.7,426.0 L120.1,415.3 L123.4,407.8 L126.8,404.6 L130.1,400.6 L133.5,404.7 L136.8,400.9 L140.2,398.6 L143.5,395.9 L146.9,394.5 L150.3,389.7 L153.6,391.6 L157.0,391.4 L160.3,388.6 L163.7,388.8 L167.0,389.1 L170.4,386.4 L173.7,383.1 L177.1,383.6 L180.4,381.7 L183.8,382.9 L187.2,381.4 L190.5,382.7 L193.9,381.5 L197.2,381.8 L200.6,379.4 L203.9,377.9 L207.3,377.2 L210.6,377.1 L214.0,376.1 L217.3,372.6 L220.7,373.3 L224.0,373.0 L227.4,372.4 L230.8,371.5 L234.1,369.3 L237.5,367.1 L240.8,369.3 L244.2,369.6 L247.5,366.9 L250.9,365.7 L254.2,366.2 L257.6,365.0 L260.9,364.0 L264.3,363.2 L267.6,362.4 L271.0,362.4 L274.4,363.7 L277.7,361.4 L281.1,360.7 L284.4,360.3 L287.8,360.0" fill="none" stroke="#E8432A" stroke-width="0.9"/>
<circle cx="103.3" cy="462.2" r="2.35" fill="#E8432A"/>
<circle cx="106.7" cy="452.7" r="2.35" fill="#E8432A"/>
<circle cx="110.0" cy="443.9" r="2.35" fill="#E8432A"/>
<circle cx="113.4" cy="437.0" r="2.35" fill="#E8432A"/>
<circle cx="116.7" cy="426.0" r="2.35" fill="#E8432A"/>
<circle cx="120.1" cy="415.3" r="2.35" fill="#E8432A"/>
<circle cx="123.4" cy="407.8" r="2.35" fill="#E8432A"/>
<circle cx="126.8" cy="404.6" r="2.35" fill="#E8432A"/>
<circle cx="130.1" cy="400.6" r="2.35" fill="#E8432A"/>
<circle cx="133.5" cy="404.7" r="2.35" fill="#E8432A"/>
<circle cx="136.8" cy="400.9" r="2.35" fill="#E8432A"/>
<circle cx="140.2" cy="398.6" r="2.35" fill="#E8432A"/>
<circle cx="143.5" cy="395.9" r="2.35" fill="#E8432A"/>
<circle cx="146.9" cy="394.5" r="2.35" fill="#E8432A"/>
<circle cx="150.3" cy="389.7" r="2.35" fill="#E8432A"/>
<circle cx="153.6" cy="391.6" r="2.35" fill="#E8432A"/>
<circle cx="157.0" cy="391.4" r="2.35" fill="#E8432A"/>
<circle cx="160.3" cy="388.6" r="2.35" fill="#E8432A"/>
<circle cx="163.7" cy="388.8" r="2.35" fill="#E8432A"/>
<circle cx="167.0" cy="389.1" r="2.35" fill="#E8432A"/>
<circle cx="170.4" cy="386.4" r="2.35" fill="#E8432A"/>
<circle cx="173.7" cy="383.1" r="2.35" fill="#E8432A"/>
<circle cx="177.1" cy="383.6" r="2.35" fill="#E8432A"/>
<circle cx="180.4" cy="381.7" r="2.35" fill="#E8432A"/>
<circle cx="183.8" cy="382.9" r="2.35" fill="#E8432A"/>
<circle cx="187.2" cy="381.4" r="2.35" fill="#E8432A"/>
<circle cx="190.5" cy="382.7" r="2.35" fill="#E8432A"/>
<circle cx="193.9" cy="381.5" r="2.35" fill="#E8432A"/>
<circle cx="197.2" cy="381.8" r="2.35" fill="#E8432A"/>
<circle cx="200.6" cy="379.4" r="2.35" fill="#E8432A"/>
<circle cx="203.9" cy="377.9" r="2.35" fill="#E8432A"/>
<circle cx="207.3" cy="377.2" r="2.35" fill="#E8432A"/>
<circle cx="210.6" cy="377.1" r="2.35" fill="#E8432A"/>
<circle cx="214.0" cy="376.1" r="2.35" fill="#E8432A"/>
<circle cx="217.3" cy="372.6" r="2.35" fill="#E8432A"/>
<circle cx="220.7" cy="373.3" r="2.35" fill="#E8432A"/>
<circle cx="224.0" cy="373.0" r="2.35" fill="#E8432A"/>
<circle cx="227.4" cy="372.4" r="2.35" fill="#E8432A"/>
<circle cx="230.8" cy="371.5" r="2.35" fill="#E8432A"/>
<circle cx="234.1" cy="369.3" r="2.35" fill="#E8432A"/>
<circle cx="237.5" cy="367.1" r="2.35" fill="#E8432A"/>
<circle cx="240.8" cy="369.3" r="2.35" fill="#E8432A"/>
<circle cx="244.2" cy="369.6" r="2.35" fill="#E8432A"/>
<circle cx="247.5" cy="366.9" r="2.35" fill="#E8432A"/>
<circle cx="250.9" cy="365.7" r="2.35" fill="#E8432A"/>
<circle cx="254.2" cy="366.2" r="2.35" fill="#E8432A"/>
<circle cx="257.6" cy="365.0" r="2.35" fill="#E8432A"/>
<circle cx="260.9" cy="364.0" r="2.35" fill="#E8432A"/>
<circle cx="264.3" cy="363.2" r="2.35" fill="#E8432A"/>
<circle cx="267.6" cy="362.4" r="2.35" fill="#E8432A"/>
<circle cx="271.0" cy="362.4" r="2.35" fill="#E8432A"/>
<circle cx="274.4" cy="363.7" r="2.35" fill="#E8432A"/>
<circle cx="277.7" cy="361.4" r="2.35" fill="#E8432A"/>
<circle cx="281.1" cy="360.7" r="2.35" fill="#E8432A"/>
<circle cx="284.4" cy="360.3" r="2.35" fill="#E8432A"/>
<circle cx="287.8" cy="360.0" r="2.35" fill="#E8432A"/>
<line x1="103.3" y1="475.5" x2="288.5" y2="475.5" stroke="#000" stroke-width="3.2"/>
<circle cx="103.3" cy="475.5" r="2.3" fill="#000"/>
<circle cx="106.7" cy="475.5" r="2.3" fill="#000"/>
<circle cx="110.0" cy="475.5" r="2.3" fill="#000"/>
<circle cx="113.4" cy="475.5" r="2.3" fill="#000"/>
<circle cx="116.7" cy="475.5" r="2.3" fill="#000"/>
<circle cx="120.1" cy="475.5" r="2.3" fill="#000"/>
<circle cx="123.4" cy="475.5" r="2.3" fill="#000"/>
<circle cx="126.8" cy="475.5" r="2.3" fill="#000"/>
<circle cx="130.1" cy="475.5" r="2.3" fill="#000"/>
<circle cx="133.5" cy="475.5" r="2.3" fill="#000"/>
<circle cx="136.8" cy="475.5" r="2.3" fill="#000"/>
<circle cx="140.2" cy="475.5" r="2.3" fill="#000"/>
<circle cx="143.5" cy="475.5" r="2.3" fill="#000"/>
<circle cx="146.9" cy="475.5" r="2.3" fill="#000"/>
<circle cx="150.3" cy="475.5" r="2.3" fill="#000"/>
<circle cx="153.6" cy="475.5" r="2.3" fill="#000"/>
<circle cx="157.0" cy="475.5" r="2.3" fill="#000"/>
<circle cx="160.3" cy="475.5" r="2.3" fill="#000"/>
<circle cx="163.7" cy="475.5" r="2.3" fill="#000"/>
<circle cx="167.0" cy="475.5" r="2.3" fill="#000"/>
<circle cx="170.4" cy="475.5" r="2.3" fill="#000"/>
<circle cx="173.7" cy="475.5" r="2.3" fill="#000"/>
<circle cx="177.1" cy="475.5" r="2.3" fill="#000"/>
<circle cx="180.4" cy="475.5" r="2.3" fill="#000"/>
<circle cx="183.8" cy="475.5" r="2.3" fill="#000"/>
<circle cx="187.2" cy="475.5" r="2.3" fill="#000"/>
<circle cx="190.5" cy="475.5" r="2.3" fill="#000"/>
<circle cx="193.9" cy="475.5" r="2.3" fill="#000"/>
<circle cx="197.2" cy="475.5" r="2.3" fill="#000"/>
<circle cx="200.6" cy="475.5" r="2.3" fill="#000"/>
<circle cx="203.9" cy="475.5" r="2.3" fill="#000"/>
<circle cx="207.3" cy="475.5" r="2.3" fill="#000"/>
<circle cx="210.6" cy="475.5" r="2.3" fill="#000"/>
<circle cx="214.0" cy="475.5" r="2.3" fill="#000"/>
<circle cx="217.3" cy="475.5" r="2.3" fill="#000"/>
<circle cx="220.7" cy="475.5" r="2.3" fill="#000"/>
<circle cx="224.0" cy="475.5" r="2.3" fill="#000"/>
<circle cx="227.4" cy="475.5" r="2.3" fill="#000"/>
<circle cx="230.8" cy="475.5" r="2.3" fill="#000"/>
<circle cx="234.1" cy="475.5" r="2.3" fill="#000"/>
<circle cx="237.5" cy="475.5" r="2.3" fill="#000"/>
<circle cx="240.8" cy="475.5" r="2.3" fill="#000"/>
<circle cx="244.2" cy="475.5" r="2.3" fill="#000"/>
<circle cx="247.5" cy="475.5" r="2.3" fill="#000"/>
<circle cx="250.9" cy="475.5" r="2.3" fill="#000"/>
<circle cx="254.2" cy="475.5" r="2.3" fill="#000"/>
<circle cx="257.6" cy="475.5" r="2.3" fill="#000"/>
<circle cx="260.9" cy="475.5" r="2.3" fill="#000"/>
<circle cx="264.3" cy="475.5" r="2.3" fill="#000"/>
<circle cx="267.6" cy="475.5" r="2.3" fill="#000"/>
<circle cx="271.0" cy="475.5" r="2.3" fill="#000"/>
<circle cx="274.4" cy="475.5" r="2.3" fill="#000"/>
<circle cx="277.7" cy="475.5" r="2.3" fill="#000"/>
<circle cx="281.1" cy="475.5" r="2.3" fill="#000"/>
<circle cx="284.4" cy="475.5" r="2.3" fill="#000"/>
<circle cx="287.8" cy="475.5" r="2.3" fill="#000"/>
<line x1="101.5" y1="349.8" x2="101.5" y2="476.4" stroke="#000" stroke-width="1.5"/>
<line x1="96.8" y1="475.5" x2="101.5" y2="475.5" stroke="#000" stroke-width="1.2"/>
<text x="95.6" y="478.8" font-size="9.3" font-weight="bold" text-anchor="end">0</text>
<line x1="96.8" y1="433.8" x2="101.5" y2="433.8" stroke="#000" stroke-width="1.2"/>
<text x="95.6" y="437.1" font-size="9.3" font-weight="bold" text-anchor="end">20</text>
<line x1="96.8" y1="392.2" x2="101.5" y2="392.2" stroke="#000" stroke-width="1.2"/>
<text x="95.6" y="395.5" font-size="9.3" font-weight="bold" text-anchor="end">40</text>
<line x1="96.8" y1="350.5" x2="101.5" y2="350.5" stroke="#000" stroke-width="1.2"/>
<text x="95.6" y="353.8" font-size="9.3" font-weight="bold" text-anchor="end">60</text>
<line x1="103.3" y1="475.5" x2="103.3" y2="479.3" stroke="#000" stroke-width="1.1"/>
<text transform="translate(106.1,487.9) rotate(-45)" font-size="9.3" font-weight="bold" text-anchor="end">0</text>
<line x1="116.7" y1="475.5" x2="116.7" y2="479.3" stroke="#000" stroke-width="1.1"/>
<text transform="translate(119.5,487.9) rotate(-45)" font-size="9.3" font-weight="bold" text-anchor="end">8</text>
<line x1="130.1" y1="475.5" x2="130.1" y2="479.3" stroke="#000" stroke-width="1.1"/>
<text transform="translate(132.9,487.9) rotate(-45)" font-size="9.3" font-weight="bold" text-anchor="end">16</text>
<line x1="143.5" y1="475.5" x2="143.5" y2="479.3" stroke="#000" stroke-width="1.1"/>
<text transform="translate(146.3,487.9) rotate(-45)" font-size="9.3" font-weight="bold" text-anchor="end">24</text>
<line x1="157.0" y1="475.5" x2="157.0" y2="479.3" stroke="#000" stroke-width="1.1"/>
<text transform="translate(159.8,487.9) rotate(-45)" font-size="9.3" font-weight="bold" text-anchor="end">32</text>
<line x1="170.4" y1="475.5" x2="170.4" y2="479.3" stroke="#000" stroke-width="1.1"/>
<text transform="translate(173.2,487.9) rotate(-45)" font-size="9.3" font-weight="bold" text-anchor="end">40</text>
<line x1="183.8" y1="475.5" x2="183.8" y2="479.3" stroke="#000" stroke-width="1.1"/>
<text transform="translate(186.6,487.9) rotate(-45)" font-size="9.3" font-weight="bold" text-anchor="end">48</text>
<line x1="197.2" y1="475.5" x2="197.2" y2="479.3" stroke="#000" stroke-width="1.1"/>
<text transform="translate(200.0,487.9) rotate(-45)" font-size="9.3" font-weight="bold" text-anchor="end">56</text>
<line x1="210.6" y1="475.5" x2="210.6" y2="479.3" stroke="#000" stroke-width="1.1"/>
<text transform="translate(213.4,487.9) rotate(-45)" font-size="9.3" font-weight="bold" text-anchor="end">64</text>
<line x1="224.0" y1="475.5" x2="224.0" y2="479.3" stroke="#000" stroke-width="1.1"/>
<text transform="translate(226.8,487.9) rotate(-45)" font-size="9.3" font-weight="bold" text-anchor="end">72</text>
<line x1="237.5" y1="475.5" x2="237.5" y2="479.3" stroke="#000" stroke-width="1.1"/>
<text transform="translate(240.3,487.9) rotate(-45)" font-size="9.3" font-weight="bold" text-anchor="end">80</text>
<line x1="250.9" y1="475.5" x2="250.9" y2="479.3" stroke="#000" stroke-width="1.1"/>
<text transform="translate(253.7,487.9) rotate(-45)" font-size="9.3" font-weight="bold" text-anchor="end">88</text>
<line x1="264.3" y1="475.5" x2="264.3" y2="479.3" stroke="#000" stroke-width="1.1"/>
<text transform="translate(267.1,487.9) rotate(-45)" font-size="9.3" font-weight="bold" text-anchor="end">96</text>
<line x1="277.7" y1="475.5" x2="277.7" y2="479.3" stroke="#000" stroke-width="1.1"/>
<text transform="translate(280.5,487.9) rotate(-45)" font-size="9.3" font-weight="bold" text-anchor="end">104</text>
<text x="195.8" y="347.5" font-size="10.1" font-weight="bold" text-anchor="middle">SS: Hut 78</text>
<text x="204.5" y="510.9" font-size="9.7" font-weight="bold" text-anchor="middle">Time (hours)</text>
<text transform="translate(76.0,410.2) scale(1.03,1) rotate(-90)" font-size="9.5" font-weight="bold" text-anchor="middle">Cytotoxicity Index (%)</text>
<line x1="338.9" y1="349.5" x2="349" y2="349.5" stroke="#1F36F0" stroke-width="1.2"/>
<circle cx="344" cy="349.5" r="2.3" fill="#1F36F0"/>
<text x="352.8" y="352.7" font-size="9">NT NK</text>
<line x1="338.9" y1="365.9" x2="349" y2="365.9" stroke="#3C962E" stroke-width="1.2"/>
<circle cx="344" cy="365.9" r="2.3" fill="#3C962E"/>
<text x="352.8" y="369.1" font-size="9">IL-15 NK</text>
<line x1="338.9" y1="382.2" x2="349" y2="382.2" stroke="#E8432A" stroke-width="1.2"/>
<circle cx="344" cy="382.2" r="2.3" fill="#E8432A"/>
<text x="352.8" y="385.4" font-size="9">CAR.70/IL-15 NK</text>
<line x1="338.9" y1="398.6" x2="349" y2="398.6" stroke="#000" stroke-width="1.2"/>
<circle cx="344" cy="398.6" r="2.3" fill="#000"/>
<text x="352.8" y="401.8" font-size="9">HuT 78 alone</text>
<path d="M298.0,359.5 H300.6 V430.1 H298.0" fill="none" stroke="#666" stroke-width="0.9"/>
<path d="M298.0,433.1 H300.6 V475.2 H298.0" fill="none" stroke="#666" stroke-width="0.9"/>
<path d="M318.4,359.0 H321.0 V475.2 H318.4" fill="none" stroke="#666" stroke-width="0.9"/>
<circle cx="305.0" cy="395.2" r="1.5" fill="#000"/>
<circle cx="308.2" cy="395.2" r="1.5" fill="#000"/>
<circle cx="311.5" cy="395.2" r="1.5" fill="#000"/>
<circle cx="314.8" cy="395.2" r="1.5" fill="#000"/>
<circle cx="305.0" cy="455.0" r="1.5" fill="#000"/>
<circle cx="308.2" cy="455.0" r="1.5" fill="#000"/>
<circle cx="311.5" cy="455.0" r="1.5" fill="#000"/>
<circle cx="314.8" cy="455.0" r="1.5" fill="#000"/>
<circle cx="325.4" cy="417.5" r="1.5" fill="#000"/>
<circle cx="328.6" cy="417.5" r="1.5" fill="#000"/>
<circle cx="331.9" cy="417.5" r="1.5" fill="#000"/>
<circle cx="335.1" cy="417.5" r="1.5" fill="#000"/>
</g>
<path d="M72.80,268.0 L73.80,267.40 L74.80,268.40 L75.80,267.40 L76.80,268.40 L77.80,267.40 L78.80,268.40 L79.80,267.40 L80.80,268.40 L81.80,267.40 L82.80,268.40 L83.80,267.40 L84.80,268.40 L85.80,267.40 L86.80,268.40 L87.80,267.40 L88.80,268.40 L89.80,267.40 L90.80,268.40 L91.80,267.40 L92.80,268.40 L93.80,267.40 L94.80,268.40 L95.80,267.40 L96.80,268.40 L97.80,267.40 L98.80,268.40 L99.80,267.40 L100.80,268.40 L101.80,267.40 L102.80,268.40 L103.80,267.40 L104.80,268.40 L105.80,267.40 L106.80,268.40 L107.80,267.40 L108.80,268.40 L109.80,267.40 L110.80,268.40 L111.80,267.40 L112.80,268.40 L113.80,267.40" fill="none" stroke="#E0505A" stroke-width="0.75"/>
</svg>
</body></html>
